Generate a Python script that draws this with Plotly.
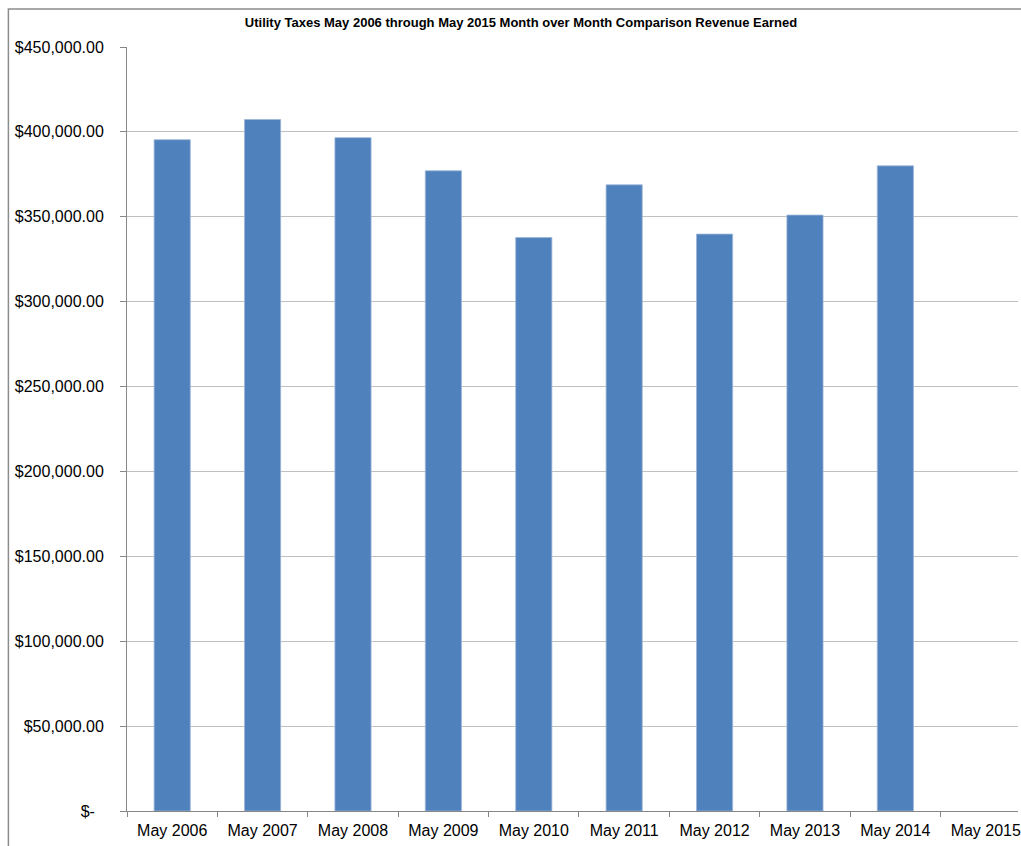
import plotly.graph_objects as go

categories = ["May 2006", "May 2007", "May 2008", "May 2009", "May 2010",
              "May 2011", "May 2012", "May 2013", "May 2014", "May 2015"]
revenue = [395400, 407300, 396600, 377100, 337800,
           368800, 339800, 351000, 380000, None]
tick_values = [0, 50000, 100000, 150000, 200000, 250000, 300000, 350000, 400000, 450000]
tick_labels = ["$-\u00a0\u00a0", "$50,000.00", "$100,000.00", "$150,000.00", "$200,000.00",
               "$250,000.00", "$300,000.00", "$350,000.00", "$400,000.00", "$450,000.00"]
title_text = "Utility Taxes May 2006 through May 2015 Month over Month Comparison Revenue Earned"

W, H = 1021, 846
L, T, B = 127, 47, 35
plot_w = W - L
cat_w = 90.7
x_hi = -0.5 + plot_w / cat_w

fig = go.Figure(go.Bar(
    x=categories, y=revenue,
    marker=dict(color="#4F81BD", line=dict(width=0.8, color="#9DB6D8")),
    width=0.4,
))

fig.update_layout(
    width=W, height=H,
    margin=dict(l=L, r=0, t=T, b=B, pad=0),
    paper_bgcolor="white", plot_bgcolor="white",
    font=dict(family="Liberation Sans, Arial, sans-serif", size=16, color="black"),
    showlegend=False,
    title=dict(text="<b>" + title_text + "</b>", x=521 / W, xanchor="center",
               y=1 - 22 / H, yanchor="middle", yref="container", xref="container",
               font=dict(size=13, family="Liberation Sans, Arial, sans-serif", color="black")),
    bargap=0.6,
)

fig.update_xaxes(
    type="category", range=[-0.5, x_hi],
    showline=True, linecolor="#868686", linewidth=1,
    ticks="outside", tickson="boundaries", ticklen=5, tickcolor="#868686",
    showgrid=False, tickfont=dict(size=16), fixedrange=True, ticklabelstandoff=5,
)
fig.update_yaxes(
    range=[0, 450000], tickvals=tick_values, ticktext=tick_labels,
    showline=True, linecolor="#868686", linewidth=1,
    ticks="outside", ticklen=6, tickcolor="#868686",
    showgrid=True, gridcolor="#C0C0C0", gridwidth=1,
    zeroline=False, tickfont=dict(size=16), ticklabelstandoff=13,
)

# outer chart border (partially visible, cut at right and bottom)
plot_h = H - T - B
fig.add_shape(type="rect", xref="paper", yref="paper",
              x0=(8 - L) / plot_w, x1=1.2,
              y0=-0.2, y1=(H - B - 9) / plot_h,
              line=dict(color="#8C8C8C", width=1.5), fillcolor="rgba(0,0,0,0)",
              layer="below")

fig.write_html(
    "out.html",
    config={"displayModeBar": False},
    post_script="document.body.style.margin='0';document.body.style.overflow='hidden';",
)
